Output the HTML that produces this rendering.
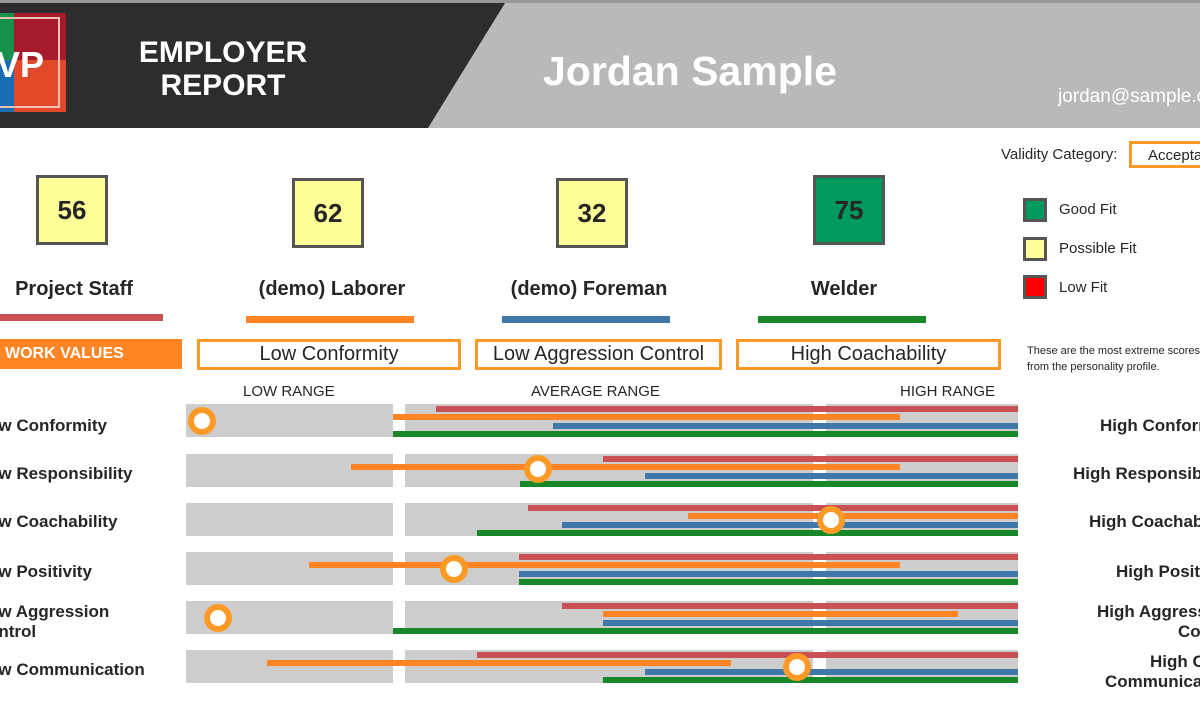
<!DOCTYPE html>
<html><head><meta charset="utf-8"><style>
*{margin:0;padding:0;box-sizing:border-box}
html,body{width:1200px;height:720px;overflow:hidden}
body{background:#fff;font-family:"Liberation Sans",Arial,sans-serif;position:relative;color:#262626}
.a{position:absolute}
.g{position:absolute;background:#cdcdcd;height:33px}
.b{position:absolute;height:6px}
.r{background:#c95054}.o{background:#fe8424}.bl{background:#3e77a8}.gr{background:#178728}
.d{position:absolute;width:28px;height:28px;border-radius:50%;border:6px solid #fd9a26;background:#fff}
.lab{position:absolute;font-weight:bold;font-size:17px;white-space:nowrap}
.sc{position:absolute;width:72px;height:70px;border:3px solid #555;background:#ffff99;font-weight:bold;font-size:26px;text-align:center;line-height:64px}
.jl{position:absolute;font-weight:bold;font-size:20px;text-align:center;width:260px}
.ob{position:absolute;border:3px solid #fd9a26;height:31px;font-size:20px;text-align:center;line-height:25px;color:#262626}
.rng{position:absolute;font-size:15px;top:383px}
.lg{position:absolute;left:1023px;width:24px;height:24px;border:3px solid #555}
.lt{position:absolute;left:1059px;font-size:15px}
#clip{position:absolute;left:0;top:0;width:1200px;height:720px;overflow:hidden}
</style></head><body><div id="clip">
<div class="a" style="left:0;top:0;width:1200px;height:128px;background:#b9b9b9"></div>
<div class="a" style="left:0;top:0;width:1200px;height:3px;background:#999"></div>
<svg class="a" style="left:0;top:3px" width="520" height="125"><polygon points="0,0 505,0 428,125 0,125" fill="#2d2d2d"/></svg>
<div class="a" style="left:0;top:13px;width:66px;height:99px;background:#e1482a"></div>
<div class="a" style="left:0;top:13px;width:66px;height:47px;background:#a51a2c"></div>
<div class="a" style="left:0;top:13px;width:14px;height:47px;background:#17904d"></div>
<div class="a" style="left:0;top:60px;width:14px;height:52px;background:#1a6db5"></div>
<div class="a" style="left:-4px;top:17px;width:64px;height:91px;border:2px solid #f0c0b0"></div>
<div class="a" style="left:-4px;top:44px;color:#fff;font-weight:bold;font-size:36px">VP</div>
<div class="a" style="left:138px;top:36px;color:#fff;font-weight:bold;font-size:30px;text-align:center;width:170px;line-height:33px">EMPLOYER<br>REPORT</div>
<div class="a" style="left:543px;top:48px;color:#fff;font-weight:bold;font-size:41px;white-space:nowrap">Jordan Sample</div>
<div class="a" style="left:1058px;top:86px;color:#fff;font-size:19px;white-space:nowrap">jordan@sample.com</div>

<div class="a" style="left:1001px;top:146px;font-size:15px;white-space:nowrap">Validity Category:</div>
<div class="a" style="left:1129px;top:141px;width:71px;height:27px;border:3px solid #fd9a26;border-right:none;font-size:15px;padding:3px 0 0 16px;white-space:nowrap;overflow:hidden">Acceptable</div>
<div class="lg" style="top:198px;background:#009a5e"></div><div class="lt" style="top:201px">Good Fit</div>
<div class="lg" style="top:237px;background:#ffff99"></div><div class="lt" style="top:240px">Possible Fit</div>
<div class="lg" style="top:275px;background:#ff0000"></div><div class="lt" style="top:279px">Low Fit</div>
<div class="a" style="left:1027px;top:343px;font-size:11px;line-height:16px;white-space:nowrap">These are the most extreme scores<br>from the personality profile.</div>

<div class="sc" style="left:36px;top:175px">56</div>
<div class="sc" style="left:292px;top:178px">62</div>
<div class="sc" style="left:556px;top:178px">32</div>
<div class="sc" style="left:813px;top:175px;background:#009a5e">75</div>
<div class="jl" style="left:-56px;top:278px">Project Staff</div>
<div class="jl" style="left:202px;top:278px">(demo) Laborer</div>
<div class="jl" style="left:459px;top:278px">(demo) Foreman</div>
<div class="jl" style="left:714px;top:278px">Welder</div>
<div class="a r" style="left:0;top:314px;width:163px;height:7px"></div>
<div class="a o" style="left:246px;top:316px;width:168px;height:7px"></div>
<div class="a bl" style="left:502px;top:316px;width:168px;height:7px"></div>
<div class="a gr" style="left:758px;top:316px;width:168px;height:7px"></div>

<div class="a" style="left:0;top:339px;width:182px;height:30px;background:#fe8424;color:#fff;font-weight:bold;font-size:16px;line-height:30px;padding-left:5px">WORK VALUES</div>
<div class="ob" style="left:197px;top:339px;width:264px">Low Conformity</div>
<div class="ob" style="left:475px;top:339px;width:247px">Low Aggression Control</div>
<div class="ob" style="left:736px;top:339px;width:265px">High Coachability</div>

<div class="rng" style="left:243px">LOW RANGE</div>
<div class="rng" style="left:531px">AVERAGE RANGE</div>
<div class="rng" style="left:900px">HIGH RANGE</div>

<div class="g" style="left:186px;top:404px;width:207px"></div><div class="g" style="left:405px;top:404px;width:408px"></div><div class="g" style="left:826px;top:404px;width:192px"></div>
<div class="g" style="left:186px;top:454px;width:207px"></div><div class="g" style="left:405px;top:454px;width:408px"></div><div class="g" style="left:826px;top:454px;width:192px"></div>
<div class="g" style="left:186px;top:503px;width:207px"></div><div class="g" style="left:405px;top:503px;width:408px"></div><div class="g" style="left:826px;top:503px;width:192px"></div>
<div class="g" style="left:186px;top:552px;width:207px"></div><div class="g" style="left:405px;top:552px;width:408px"></div><div class="g" style="left:826px;top:552px;width:192px"></div>
<div class="g" style="left:186px;top:601px;width:207px"></div><div class="g" style="left:405px;top:601px;width:408px"></div><div class="g" style="left:826px;top:601px;width:192px"></div>
<div class="g" style="left:186px;top:650px;width:207px"></div><div class="g" style="left:405px;top:650px;width:408px"></div><div class="g" style="left:826px;top:650px;width:192px"></div>

<div class="b r" style="left:436px;top:406px;width:582px"></div>
<div class="b o" style="left:393px;top:414px;width:507px"></div>
<div class="b bl" style="left:553px;top:423px;width:465px"></div>
<div class="b gr" style="left:393px;top:431px;width:625px"></div>
<div class="d" style="left:188px;top:407px"></div>
<div class="b r" style="left:603px;top:456px;width:415px"></div>
<div class="b o" style="left:351px;top:464px;width:549px"></div>
<div class="b bl" style="left:645px;top:473px;width:373px"></div>
<div class="b gr" style="left:520px;top:481px;width:498px"></div>
<div class="d" style="left:524px;top:455px"></div>
<div class="b r" style="left:528px;top:505px;width:490px"></div>
<div class="b o" style="left:688px;top:513px;width:330px"></div>
<div class="b bl" style="left:562px;top:522px;width:456px"></div>
<div class="b gr" style="left:477px;top:530px;width:541px"></div>
<div class="d" style="left:817px;top:506px"></div>
<div class="b r" style="left:519px;top:554px;width:499px"></div>
<div class="b o" style="left:309px;top:562px;width:591px"></div>
<div class="b bl" style="left:519px;top:571px;width:499px"></div>
<div class="b gr" style="left:519px;top:579px;width:499px"></div>
<div class="d" style="left:440px;top:555px"></div>
<div class="b r" style="left:562px;top:603px;width:456px"></div>
<div class="b o" style="left:603px;top:611px;width:355px"></div>
<div class="b bl" style="left:603px;top:620px;width:415px"></div>
<div class="b gr" style="left:393px;top:628px;width:625px"></div>
<div class="d" style="left:204px;top:604px"></div>
<div class="b r" style="left:477px;top:652px;width:541px"></div>
<div class="b o" style="left:267px;top:660px;width:464px"></div>
<div class="b bl" style="left:645px;top:669px;width:373px"></div>
<div class="b gr" style="left:603px;top:677px;width:415px"></div>
<div class="d" style="left:783px;top:653px"></div>

<div class="lab" style="left:-12px;top:416px">ow Conformity</div>
<div class="lab" style="left:-12px;top:464px">ow Responsibility</div>
<div class="lab" style="left:-12px;top:512px">ow Coachability</div>
<div class="lab" style="left:-12px;top:562px">ow Positivity</div>
<div class="lab" style="left:-12px;top:602px;line-height:20px">ow Aggression<br>ontrol</div>
<div class="lab" style="left:-12px;top:660px">ow Communication</div>

<div class="lab" style="left:1100px;top:416px">High Conformity</div>
<div class="lab" style="left:1073px;top:464px">High Responsibility</div>
<div class="lab" style="left:1089px;top:512px">High Coachability</div>
<div class="lab" style="left:1116px;top:562px">High Positivity</div>
<div class="lab" style="left:1097px;top:602px">High Aggression</div>
<div class="lab" style="left:1178px;top:622px">Control</div>
<div class="lab" style="left:1150px;top:652px">High Clear</div>
<div class="lab" style="left:1105px;top:672px">Communication</div>
</div></body></html>
